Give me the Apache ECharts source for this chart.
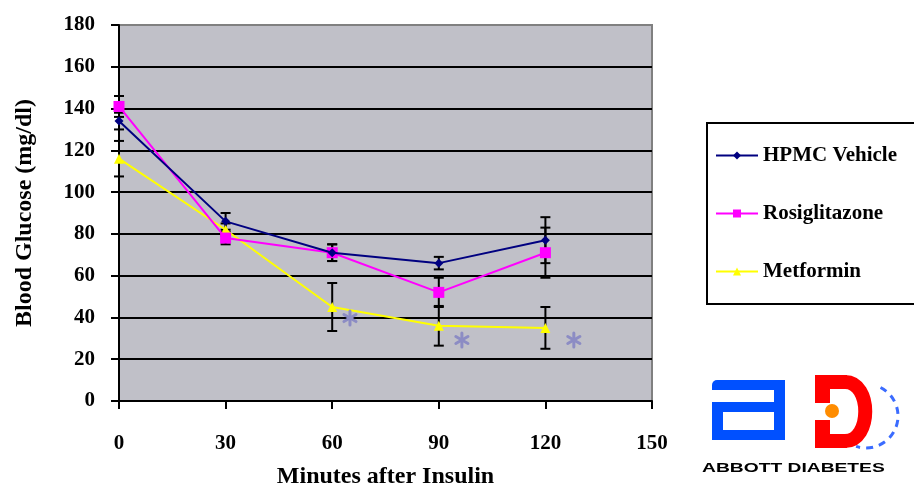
<!DOCTYPE html>
<html>
<head>
<meta charset="utf-8">
<script src="https://cdn.jsdelivr.net/npm/echarts@6/dist/echarts.min.js"></script>
<style>html,body{margin:0;padding:0;background:#fff;}#c{width:914px;height:488px;}</style>
</head>
<body>
<div id="c"></div>
<script>
const minutes = [0, 30, 60, 90, 120];
const vehicle = [134, 86, 71, 66, 77];
const vehicleErr = [4, 4, 4, 3, 11];
const rosi = [141, 78, 71, 52, 71];
const rosiErr = [5, 3, 4, 7, 12];
const metformin = [116, 82, 45, 36, 35];
const metforminErr = [8.5, 3, 11.5, 9.5, 10];
const sigX = [65, 96.5, 128];
const sigY = [39.7, 29.2, 29.2];
const seriesNames = ['HPMC Vehicle', 'Rosiglitazone', 'Metformin'];
const xTicks = [0, 30, 60, 90, 120, 150];
const yTicks = [0, 20, 40, 60, 80, 100, 120, 140, 160, 180];

const chart = echarts.init(document.getElementById('c'), null, {renderer: 'canvas'});
const serif = 'Liberation Serif';

function pts(vals) { return minutes.map((m, i) => [m, vals[i]]); }
function errs(vals, e) { return minutes.map((m, i) => [m, vals[i] - e[i], vals[i] + e[i]]); }

function errRender(params, api) {
  const x = api.value(0), lo = api.value(1), hi = api.value(2);
  const p1 = api.coord([x, hi]), p2 = api.coord([x, lo]);
  const st = {stroke: '#000', lineWidth: 2};
  return {type: 'group', children: [
    {type: 'line', shape: {x1: p1[0], y1: p1[1], x2: p2[0], y2: p2[1]}, style: st},
    {type: 'line', shape: {x1: p1[0] - 5, y1: p1[1], x2: p1[0] + 5, y2: p1[1]}, style: st},
    {type: 'line', shape: {x1: p2[0] - 5, y1: p2[1], x2: p2[0] + 5, y2: p2[1]}, style: st}
  ]};
}

function starRender(params, api) {
  const c = api.coord([api.value(0), api.value(1)]);
  const r = 7;
  const st = {stroke: '#8c8cc4', lineWidth: 3, lineCap: 'round'};
  const ch = [];
  for (let k = 0; k < 3; k++) {
    const a = Math.PI / 2 + k * Math.PI / 3;
    ch.push({type: 'line', shape: {x1: c[0] - r * Math.cos(a), y1: c[1] - r * Math.sin(a), x2: c[0] + r * Math.cos(a), y2: c[1] + r * Math.sin(a)}, style: st});
  }
  return {type: 'group', children: ch};
}

const gridLineColors = yTicks.map((t, i) => i === yTicks.length - 1 ? 'rgba(0,0,0,0)' : '#000');

const option = {
  animation: false,
  backgroundColor: '#fff',
  grid: {left: 119, right: 262, top: 25, bottom: 87, outerBoundsMode: 'none', containLabel: false,
    show: true, backgroundColor: '#c0c0c8', borderColor: '#808080', borderWidth: 2},
  legend: {
    data: seriesNames,
    orient: 'vertical',
    left: 707, top: 123,
    padding: [22, 80, 22, 8],
    itemGap: 37,
    itemWidth: 42, itemHeight: 10,
    borderColor: '#000', borderWidth: 2,
    backgroundColor: '#fff',
    textStyle: {fontFamily: serif, fontWeight: 'bold', fontSize: 21, color: '#000'}
  },
  xAxis: {
    type: 'value', min: 0, max: 150, interval: 30,
    name: 'Minutes after Insulin', nameLocation: 'middle', nameGap: 64,
    nameTextStyle: {fontFamily: serif, fontWeight: 'bold', fontSize: 24, color: '#000'},
    axisLine: {show: true, lineStyle: {color: '#000', width: 2}},
    axisTick: {show: true, length: 8, inside: false, lineStyle: {color: '#000', width: 2}},
    axisLabel: {margin: 32, fontFamily: serif, fontWeight: 'bold', fontSize: 21, color: '#000',
      formatter: v => xTicks.includes(v) ? String(v) : ''},
    splitLine: {show: false}
  },
  yAxis: {
    type: 'value', min: 0, max: 180, interval: 20,
    name: 'Blood Glucose (mg/dl)', nameLocation: 'middle', nameGap: 82,
    nameTextStyle: {fontFamily: serif, fontWeight: 'bold', fontSize: 24, color: '#000'},
    axisLine: {show: true, lineStyle: {color: '#000', width: 2}},
    axisTick: {show: true, length: 8, inside: false, lineStyle: {color: '#000', width: 2}},
    axisLabel: {margin: 24, fontFamily: serif, fontWeight: 'bold', fontSize: 21, color: '#000',
      formatter: v => yTicks.includes(v) ? String(v) : ''},
    splitLine: {show: true, lineStyle: {color: gridLineColors, width: 2}}
  },
  series: [
    {type: 'custom', name: 'errV', renderItem: errRender, data: errs(vehicle, vehicleErr), z: 1, silent: true},
    {type: 'custom', name: 'errR', renderItem: errRender, data: errs(rosi, rosiErr), z: 1, silent: true},
    {type: 'custom', name: 'errM', renderItem: errRender, data: errs(metformin, metforminErr), z: 1, silent: true},
    {type: 'line', name: seriesNames[0], data: pts(vehicle), color: '#000080', symbol: 'diamond', symbolSize: 9,
      lineStyle: {width: 2, color: '#000080'}, itemStyle: {color: '#000080'}, z: 4},
    {type: 'line', name: seriesNames[1], data: pts(rosi), color: '#ff00ff', symbol: 'rect', symbolSize: 11,
      lineStyle: {width: 2, color: '#ff00ff'}, itemStyle: {color: '#ff00ff'}, z: 3},
    {type: 'line', name: seriesNames[2], data: pts(metformin), color: '#ffff00', symbol: 'triangle', symbolSize: 10,
      lineStyle: {width: 2, color: '#ffff00'}, itemStyle: {color: '#ffff00'}, z: 2},
    {type: 'custom', name: 'sig', renderItem: starRender, data: sigX.map((x, i) => [x, sigY[i]]), z: 5, silent: true}
  ],
  graphic: [
    {type: 'group', silent: true, children: [
      {type: 'rect', shape: {x: 712, y: 380, width: 73, height: 10, r: [5, 0, 0, 0]}, style: {fill: '#0050ff'}},
      {type: 'rect', shape: {x: 774, y: 380, width: 11, height: 60}, style: {fill: '#0050ff'}},
      {type: 'rect', shape: {x: 712, y: 402, width: 73, height: 10}, style: {fill: '#0050ff'}},
      {type: 'rect', shape: {x: 712, y: 402, width: 11, height: 38}, style: {fill: '#0050ff'}},
      {type: 'rect', shape: {x: 712, y: 430, width: 73, height: 10}, style: {fill: '#0050ff'}},
      {type: 'arc', shape: {cx: 866, cy: 416, r: 32, startAngle: -Math.PI * 0.35, endAngle: Math.PI * 0.6}, style: {stroke: '#3b6cff', lineWidth: 3, lineDash: [7, 6], fill: null}},
      {type: 'rect', shape: {x: 815, y: 375, width: 32, height: 14}, style: {fill: '#ff0000'}},
      {type: 'rect', shape: {x: 815, y: 434, width: 32, height: 14}, style: {fill: '#ff0000'}},
      {type: 'rect', shape: {x: 815, y: 375, width: 15, height: 28}, style: {fill: '#ff0000'}},
      {type: 'rect', shape: {x: 815, y: 420, width: 15, height: 28}, style: {fill: '#ff0000'}},
      {type: 'bezierCurve', shape: {x1: 845, y1: 382, x2: 845, y2: 441, cpx1: 872, cpy1: 382, cpx2: 872, cpy2: 441}, style: {stroke: '#ff0000', lineWidth: 14, fill: null}},
      {type: 'circle', shape: {cx: 832, cy: 411, r: 7}, style: {fill: '#ff8c00'}},
      {type: 'text', x: 702, y: 468, scaleX: 1.48, style: {text: 'ABBOTT DIABETES', x: 0, y: 0, fill: '#000', font: 'bold 13px "Liberation Sans"', textVerticalAlign: 'middle'}}
    ]}
  ]
};
chart.setOption(option);
</script>
</body>
</html>
